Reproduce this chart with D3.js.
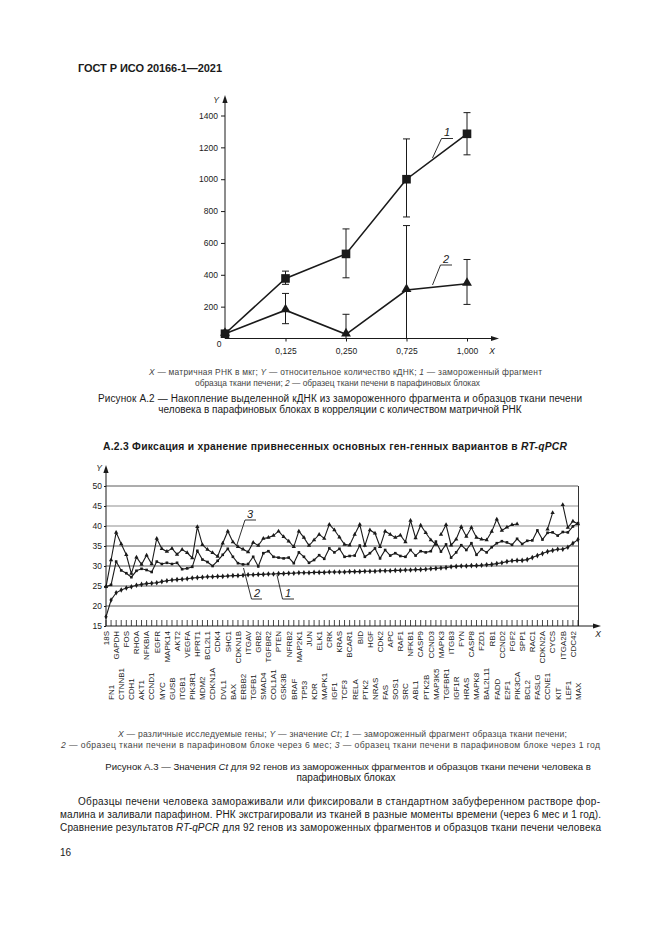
<!DOCTYPE html>
<html><head><meta charset="utf-8">
<script src="https://cdn.jsdelivr.net/npm/d3@7"></script>
<style>
body{margin:0;background:#fff}
svg{display:block}
text{font-family:"Liberation Sans",Arial,sans-serif;fill:#1a1a1a}
</style>
</head><body><svg id="c" width="661" height="935"></svg>
<script>
// ---------- Figure A.2 data ----------
const topCats = ["0", "0,125", "0,250", "0,725", "1,000"];
const topYTicks = [200, 400, 600, 800, 1000, 1200, 1400];
const frozenCdna = [30, 377, 531, 1000, 1285];
const frozenLow  = [null, 340, 381, 763, 1153];
const frozenHigh = [null, 423, 688, 1253, 1418];
const paraffinCdna = [30, 178, 26, 304, 344];
const paraffinLow  = [null, 93, 0, 0, 214];
const paraffinHigh = [null, 283, 152, 709, 496];

// ---------- Figure A.3 data ----------
const genesUpper = ["18S","GAPDH","FOS","RHOA","NFKBIA","EGFR","MAPK14","AKT2","VEGFA","HPRT1","BCL2L1","CDK4","SHC1","CDKN1B","ITGAV","GRB2","TGFBR2","PTEN","NFRB2","MAP2K1","JUN","ELK1","CRK","KRAS","BCAR1","BID","HGF","CDK2","APC","RAF1","NFKB1","CASP9","CCND3","MAPK3","ITGB3","FYN","CASP8","FZD1","RB1","CCND2","FGF2","SPP1","RAC1","CDKN2A","CYCS","ITGA2B","CDC42"];
const genesLower = ["FN1","CTNNB1","CDH1","AKT1","CCND1","MYC","GUSB","ITGB1","PIK3R1","MDM2","CDKN1A","DVL1","BAX","ERBB2","TGFB1","SMAD4","COL1A1","GSK3B","BRAF","TP53","KDR","MAPK1","IGF1","TCF3","RELA","PTK2","NRAS","FAS","SOS1","SRC","ABL1","PTK2B","MAP3K5","TGFBR1","IGF1R","HRAS","MAPK8","BAL2L11","FADD","E2F1","PIK3CA","BCL2","FASLG","CCNE1","KIT","LEF1","MAX"];
const ctYTicks = [15, 20, 25, 30, 35, 40, 45, 50];
const ctFrozen = [17.3,21.5,23.3,24.0,24.5,24.8,25.2,25.4,25.6,25.7,25.8,26.1,26.3,26.5,26.6,26.7,26.8,27.0,27.1,27.2,
  27.3,27.3,27.4,27.4,27.5,27.6,27.6,27.7,27.8,27.8,27.9,27.9,28.0,28.0,28.1,28.1,28.2,28.2,28.3,28.3,
  28.3,28.4,28.4,28.4,28.5,28.5,28.5,28.5,28.6,28.6,28.6,28.7,28.7,28.7,28.8,28.8,28.8,28.9,28.9,29.0,
  29.0,29.1,29.1,29.2,29.3,29.4,29.5,29.6,29.8,29.9,30.0,30.0,30.1,30.1,30.2,30.3,30.4,30.6,30.8,31.1,
  31.3,31.4,31.4,31.6,32.1,32.6,33.1,33.6,33.9,34.2,34.2,34.7,35.7,36.6];
const ct6Months = [24.8,25.3,31.1,28.9,28.2,27.2,28.8,29.3,29.0,28.5,31.1,30.5,30.8,30.5,30.8,29.2,29.4,29.8,33.8,31.6,
  31.0,30.0,31.3,32.8,34.3,32.3,30.7,30.4,30.5,32.3,29.9,33.2,33.7,32.3,32.1,31.9,32.1,30.7,33.4,32.3,
  30.8,31.5,32.7,31.8,34.4,33.4,34.3,32.3,32.5,32.6,35.1,32.3,33.2,34.4,31.9,34.0,32.6,33.2,32.5,32.3,
  34.0,32.6,33.7,33.4,33.7,36.1,33.6,35.4,32.1,33.4,35.2,34.0,35.7,32.8,34.2,33.4,34.7,35.7,36.2,35.9,
  35.3,36.8,35.5,36.3,36.4,38.9,36.6,38.3,38.4,37.6,38.5,38.4,39.9,40.7];
const ct1Year = [24.8,31.5,38.4,35.5,32.8,28.1,32.2,30.4,32.7,30.5,36.9,34.3,33.6,34.4,32.9,34.1,33.3,32.0,39.8,35.3,
  34.1,33.3,32.4,35.7,38.7,36.0,34.8,34.2,33.5,35.9,35.1,36.9,37.1,37.6,38.7,37.3,36.2,34.8,38.7,37.1,
  35.1,36.5,37.9,36.9,40.4,39.0,37.2,35.4,35.2,37.9,40.4,35.1,39.0,38.2,34.8,38.7,37.9,37.1,37.7,36.0,
  41.4,37.0,40.2,38.3,36.5,35.4,37.9,40.3,35.2,36.7,39.8,37.4,39.6,37.1,36.7,36.5,38.6,41.7,38.9,39.7,
  40.3,40.5,null,null,null,null,null,39.2,43.3,null,45.3,39.6,41.2,40.5];
const ct1YearBreaks = [65];

// ---------- drawing ----------
const svg = d3.select("#c");
svg.append("rect").attr("width", 661).attr("height", 935).attr("fill", "#fff");
const INK = "#1a1a1a";

function richText(x, y, parts, o) {
  const t = svg.append("text").attr("x", x).attr("y", y)
    .attr("font-size", o.size || 10)
    .attr("text-anchor", o.anchor || "start");
  if (o.bold) t.attr("font-weight", "bold");
  if (o.fill) t.style("fill", o.fill);
  if (o.len) t.attr("textLength", o.len).attr("lengthAdjust", "spacing");
  parts.forEach(p => {
    const s = t.append("tspan").text(p[0]);
    if (p[1]) s.attr("font-style", "italic");
  });
  return t;
}
function arrowUp(x, y) {
  svg.append("path").attr("d", `M${x},${y} L${x-2.6},${y+8} L${x+2.6},${y+8} Z`).attr("fill", INK);
}
function arrowRight(x, y) {
  svg.append("path").attr("d", `M${x},${y} L${x-8},${y-2.6} L${x-8},${y+2.6} Z`).attr("fill", INK);
}

// header
richText(78, 72, [["ГОСТ Р ИСО 20166-1—2021"]], {size: 11, bold: true, len: 144});

// ===== Figure A.2 =====
const x1 = d3.scalePoint().domain(topCats).range([225, 467]);
const y1 = d3.scaleLinear().domain([0, 1400]).range([338.5, 115.5]);
const g1 = svg.append("g");

g1.append("line").attr("x1", x1(topCats[0])).attr("x2", x1(topCats[0]))
  .attr("y1", y1(0)).attr("y2", 100).attr("stroke", INK).attr("stroke-width", 1);
arrowUp(x1(topCats[0]), 95);
g1.append("line").attr("x1", x1(topCats[0])).attr("x2", 494)
  .attr("y1", y1(0)).attr("y2", y1(0)).attr("stroke", INK).attr("stroke-width", 1);
arrowRight(499, y1(0));

const ay1 = g1.append("g").attr("transform", `translate(${x1(topCats[0])},0)`)
  .call(d3.axisLeft(y1).tickValues(topYTicks).tickSize(4).tickPadding(3).tickFormat(d3.format("d")));
ay1.select(".domain").remove();
ay1.selectAll("line").attr("stroke", INK);
ay1.selectAll("text").attr("font-size", 8.5).attr("font-family", "Liberation Sans, Arial").style("fill", INK);

const ax1 = g1.append("g").attr("transform", `translate(0,${y1(0)})`)
  .call(d3.axisBottom(x1).tickValues(topCats.slice(1)).tickSize(3).tickPadding(6));
ax1.select(".domain").remove();
ax1.selectAll("line").attr("stroke", INK);
ax1.selectAll("text").attr("font-size", 8.5).attr("font-family", "Liberation Sans, Arial").style("fill", INK);

g1.append("text").attr("x", 219).attr("y", 347).attr("font-size", 8.5).attr("text-anchor", "middle").text(topCats[0]);
g1.append("text").attr("x", 216).attr("y", 103).attr("font-size", 8.5).attr("font-style", "italic").attr("text-anchor", "middle").text("Y");
g1.append("text").attr("x", 492).attr("y", 354).attr("font-size", 8.5).attr("font-style", "italic").attr("text-anchor", "middle").text("X");

function errBars(lo, hi) {
  topCats.forEach((c, i) => {
    if (lo[i] == null) return;
    const x = x1(c);
    g1.append("line").attr("x1", x).attr("x2", x).attr("y1", y1(lo[i])).attr("y2", y1(hi[i]))
      .attr("stroke", INK).attr("stroke-width", 1);
    [lo[i], hi[i]].forEach(v => {
      if (v <= 0) return;
      g1.append("line").attr("x1", x - 3.5).attr("x2", x + 3.5).attr("y1", y1(v)).attr("y2", y1(v))
        .attr("stroke", INK).attr("stroke-width", 1);
    });
  });
}
errBars(frozenLow, frozenHigh);
errBars(paraffinLow, paraffinHigh);

const line1 = d3.line().x((d, i) => x1(topCats[i])).y(d => y1(d));
[frozenCdna, paraffinCdna].forEach(s => {
  g1.append("path").attr("d", line1(s)).attr("fill", "none").attr("stroke", INK).attr("stroke-width", 1.6);
});
g1.selectAll(".sq").data(frozenCdna).join("rect")
  .attr("x", (d, i) => x1(topCats[i]) - 4.3).attr("y", d => y1(d) - 4.3)
  .attr("width", 8.6).attr("height", 8.6).attr("fill", INK);
g1.selectAll(".tr").data(paraffinCdna).join("path")
  .attr("d", d3.symbol(d3.symbolTriangle).size(42))
  .attr("transform", (d, i) => `translate(${x1(topCats[i])},${y1(d) - 0.8})`).attr("fill", INK);

function annot(lx, ly, label, ux1, ux2, uy, ex, ey, size) {
  svg.append("text").attr("x", lx).attr("y", ly).attr("font-size", size).attr("font-style", "italic")
    .attr("text-anchor", "middle").text(label);
  svg.append("path").attr("d", `M${ux2},${uy} L${ux1},${uy} L${ex},${ey}`)
    .attr("fill", "none").attr("stroke", INK).attr("stroke-width", 0.9);
}
annot(447, 136, "1", 441.5, 453, 138.5, 432.5, 158, 11);
annot(446, 263, "2", 440.5, 452, 265, 432.5, 285, 11);

// captions A.2
richText(149, 375, [["X", 1], [" — матричная РНК в мкг; "], ["Y", 1], [" — относительное количество кДНК; "], ["1", 1], [" — замороженный фрагмент"]], {size: 8.4, len: 393, fill: "#444"});
richText(195, 386, [["образца ткани печени; "], ["2", 1], [" — образец ткани печени в парафиновых блоках"]], {size: 8.4, len: 285, fill: "#444"});
richText(98, 402, [["Рисунок А.2 — Накопление выделенной кДНК из замороженного фрагмента и образцов ткани печени"]], {size: 10, len: 484});
richText(340, 413, [["человека в парафиновых блоках в корреляции с количеством матричной РНК"]], {size: 10, anchor: "middle"});

// section heading
richText(103, 450, [["А.2.3 Фиксация и хранение привнесенных основных ген-генных вариантов в "], ["RT-qPCR", 1]], {size: 10.3, bold: true, len: 464});

// ===== Figure A.3 =====
const nG = genesUpper.length + genesLower.length;
const allGenes = d3.range(nG).map(i => i % 2 === 0 ? genesUpper[i / 2] : genesLower[(i - 1) / 2]);
const x2 = d3.scalePoint().domain(allGenes).range([106, 578]);
const y2 = d3.scaleLinear().domain([15, 50]).range([626, 486]);
const g2 = svg.append("g");

ctYTicks.slice(1).forEach(v => {
  const light = (v === 40 || v === 45);
  g2.append("line").attr("x1", 106).attr("x2", 578).attr("y1", y2(v)).attr("y2", y2(v))
    .attr("stroke", light ? "#b4b4b4" : "#5a5a5a").attr("stroke-width", light ? 1.6 : 1);
});
g2.append("line").attr("x1", 578.5).attr("x2", 578.5).attr("y1", y2(50)).attr("y2", y2(15))
  .attr("stroke", "#333").attr("stroke-width", 1);

g2.append("line").attr("x1", 106).attr("x2", 106).attr("y1", y2(15)).attr("y2", 470)
  .attr("stroke", INK).attr("stroke-width", 1);
arrowUp(106, 465);
g2.append("line").attr("x1", 106).attr("x2", 596).attr("y1", y2(15)).attr("y2", y2(15))
  .attr("stroke", INK).attr("stroke-width", 1);
arrowRight(601, y2(15));

const ay2 = g2.append("g").attr("transform", "translate(106,0)")
  .call(d3.axisLeft(y2).tickValues(ctYTicks).tickSize(2).tickPadding(2));
ay2.select(".domain").remove();
ay2.selectAll("line").attr("stroke", INK);
ay2.selectAll("text").attr("font-size", 8.5).attr("font-family", "Liberation Sans, Arial").style("fill", INK);

g2.append("text").attr("x", 99).attr("y", 471).attr("font-size", 8.5).attr("font-style", "italic").attr("text-anchor", "middle").text("Y");
g2.append("text").attr("x", 598).attr("y", 637).attr("font-size", 8.5).attr("font-style", "italic").attr("text-anchor", "middle").text("X");

g2.selectAll(".xt").data(allGenes).join("line")
  .attr("x1", d => x2(d)).attr("x2", d => x2(d))
  .attr("y1", y2(15)).attr("y2", y2(15) - 6).attr("stroke", INK).attr("stroke-width", 0.8);

const geneFont = "'Liberation Sans Narrow','DejaVu Sans Condensed','Liberation Sans',Arial";
g2.selectAll(".gl").data(allGenes).join("text")
  .attr("transform", (d, i) => i % 2 === 0 ? `translate(${x2(d)},631) rotate(-90)` : `translate(${x2(d)},700) rotate(-90)`)
  .attr("text-anchor", (d, i) => i % 2 === 0 ? "end" : "start")
  .attr("dy", "0.35em")
  .attr("font-size", 8).attr("font-family", geneFont)
  .text(d => d);

function segs(vals, breaks) {
  const out = []; let cur = [];
  vals.forEach((v, i) => {
    if (v == null) { if (cur.length) out.push(cur); cur = []; return; }
    cur.push([allGenes[i], v]);
    if (breaks.includes(i)) { out.push(cur); cur = []; }
  });
  if (cur.length) out.push(cur);
  return out;
}
const line2 = d3.line().x(d => x2(d[0])).y(d => y2(d[1]));
[[ctFrozen, []], [ct6Months, []], [ct1Year, ct1YearBreaks]].forEach(([vals, br]) => {
  segs(vals, br).forEach(s => {
    g2.append("path").attr("d", line2(s)).attr("fill", "none").attr("stroke", INK).attr("stroke-width", 1.1);
  });
});
const ptsOf = vals => vals.map((v, i) => [allGenes[i], v]).filter(d => d[1] != null);
g2.selectAll(".m1").data(ptsOf(ctFrozen)).join("path")
  .attr("d", d3.symbol(d3.symbolDiamond).size(9))
  .attr("transform", d => `translate(${x2(d[0])},${y2(d[1])})`).attr("fill", INK);
g2.selectAll(".m2").data(ptsOf(ct6Months)).join("rect")
  .attr("x", d => x2(d[0]) - 1.3).attr("y", d => y2(d[1]) - 1.3)
  .attr("width", 2.6).attr("height", 2.6).attr("fill", INK);
g2.selectAll(".m3").data(ptsOf(ct1Year)).join("path")
  .attr("d", d3.symbol(d3.symbolTriangle).size(8))
  .attr("transform", d => `translate(${x2(d[0])},${y2(d[1])})`).attr("fill", INK);

annot(250, 518, "3", 245, 256, 520, 236.5, 546, 11);
annot(257, 597, "2", 251.5, 262, 599, 243.5, 568, 11);
annot(288, 597, "1", 282.5, 294, 599, 277, 575, 11);

// captions A.3
richText(118, 737, [["X", 1], [" — различные исследуемые гены; "], ["Y", 1], [" — значение "], ["Ct", 1], ["; "], ["1", 1], [" — замороженный фрагмент образца ткани печени;"]], {size: 8.6, len: 449, fill: "#444"});
richText(61, 748, [["2", 1], [" — образец ткани печени в парафиновом блоке через 6 мес; "], ["3", 1], [" — образец ткани печени в парафиновом блоке через 1 год"]], {size: 8.6, len: 539, fill: "#444"});
richText(348, 770, [["Рисунок А.3 — Значения "], ["Ct", 1], [" для 92 генов из замороженных фрагментов и образцов ткани печени человека в"]], {size: 9.6, anchor: "middle"});
richText(346, 781, [["парафиновых блоках"]], {size: 10, anchor: "middle"});

// paragraph
richText(78, 805, [["Образцы печени человека замораживали или фиксировали в стандартном забуференном растворе фор-"]], {size: 10, len: 522});
richText(60, 818, [["малина и заливали парафином. РНК экстрагировали из тканей в разные моменты времени (через 6 мес и 1 год)."]], {size: 10, len: 541});
richText(60, 831, [["Сравнение результатов "], ["RT-qPCR", 1], [" для 92 генов из замороженных фрагментов и образцов ткани печени человека"]], {size: 10, len: 541});

richText(60, 856, [["16"]], {size: 10});
</script></body></html>
